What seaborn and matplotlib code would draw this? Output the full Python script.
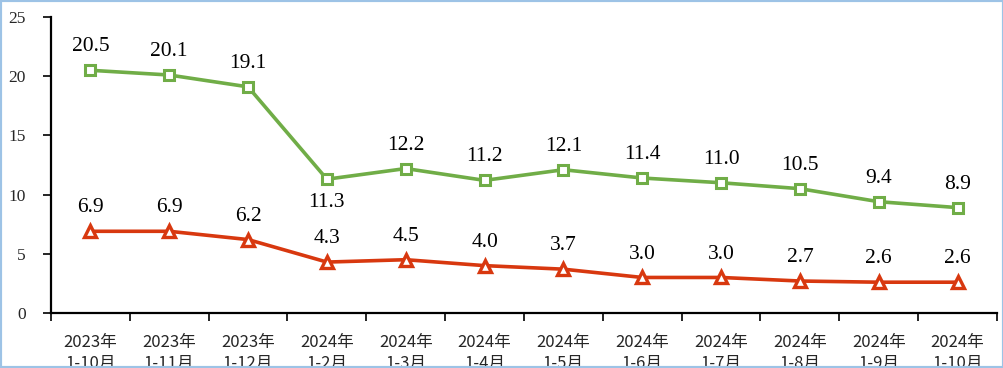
import matplotlib
matplotlib.use("Agg")
import matplotlib.pyplot as plt
from matplotlib.patches import Rectangle
from matplotlib.ticker import MultipleLocator
import seaborn as sns
import pandas as pd

periods = ["2023年\n1-10月", "2023年\n1-11月", "2023年\n1-12月", "2024年\n1-2月",
           "2024年\n1-3月", "2024年\n1-4月", "2024年\n1-5月", "2024年\n1-6月",
           "2024年\n1-7月", "2024年\n1-8月", "2024年\n1-9月", "2024年\n1-10月"]
green_vals = [20.5, 20.1, 19.1, 11.3, 12.2, 11.2, 12.1, 11.4, 11.0, 10.5, 9.4, 8.9]
red_vals = [6.9, 6.9, 6.2, 4.3, 4.5, 4.0, 3.7, 3.0, 3.0, 2.7, 2.6, 2.6]

GREEN = "#70ad47"
RED = "#d8380f"

df = pd.DataFrame({"idx": range(len(periods)), "green": green_vals, "red": red_vals})

sns.set_style("white")
fig = plt.figure(figsize=(10.04, 3.68), dpi=100)
ax = fig.add_axes([0.0508, 0.1495, 0.9422, 0.8043])

sns.lineplot(data=df, x="idx", y="green", ax=ax, color=GREEN, lw=2.6,
             marker="s", markersize=7, markerfacecolor="white",
             markeredgecolor=GREEN, markeredgewidth=2.2, sort=False)
sns.lineplot(data=df, x="idx", y="red", ax=ax, color=RED, lw=2.6,
             marker="^", markersize=9, markerfacecolor="white",
             markeredgecolor=RED, markeredgewidth=2.4, sort=False)

num_font = dict(family="Liberation Serif", size=15.5, color="black")
for i, v in enumerate(green_vals):
    if i == 3:
        ax.annotate(f"{v:.1f}", (i, v), xytext=(0, -10), textcoords="offset points",
                    ha="center", va="top", **num_font)
    else:
        ax.annotate(f"{v:.1f}", (i, v), xytext=(0, 10), textcoords="offset points",
                    ha="center", va="bottom", **num_font)
for i, v in enumerate(red_vals):
    ax.annotate(f"{v:.1f}", (i, v), xytext=(0, 10), textcoords="offset points",
                ha="center", va="bottom", **num_font)

ax.set_xlim(-0.5, len(periods) - 0.5)
ax.set_ylim(0, 25)
ax.yaxis.set_major_locator(MultipleLocator(5))
ax.set_xticks(range(len(periods)))
ax.set_xticklabels(periods, family=["Noto Sans CJK SC", "DejaVu Sans"], fontsize=12,
                   linespacing=1.3)
ax.set_xticks([i - 0.5 for i in range(len(periods) + 1)], minor=True)
ax.tick_params(axis="x", which="major", length=0, pad=15)
ax.tick_params(axis="x", which="minor", length=6, width=1.2, direction="out", color="black")
ax.tick_params(axis="y", length=6, width=1.2, direction="out", color="black", pad=12)
for lab in ax.get_yticklabels():
    lab.set_family("Liberation Serif")
    lab.set_fontsize(12.5)
ax.set_xlabel("")
ax.set_ylabel("")

for side in ["top", "right"]:
    ax.spines[side].set_visible(False)
for side in ["left", "bottom"]:
    ax.spines[side].set_color("black")
    ax.spines[side].set_linewidth(1.6)
ax.xaxis.set_ticks_position("bottom")
ax.yaxis.set_ticks_position("left")

fig.patches.append(Rectangle((0, 0), 1, 1, transform=fig.transFigure, fill=False,
                             edgecolor="#9dc3e6", lw=3))

fig.savefig("out.png", dpi=100)
